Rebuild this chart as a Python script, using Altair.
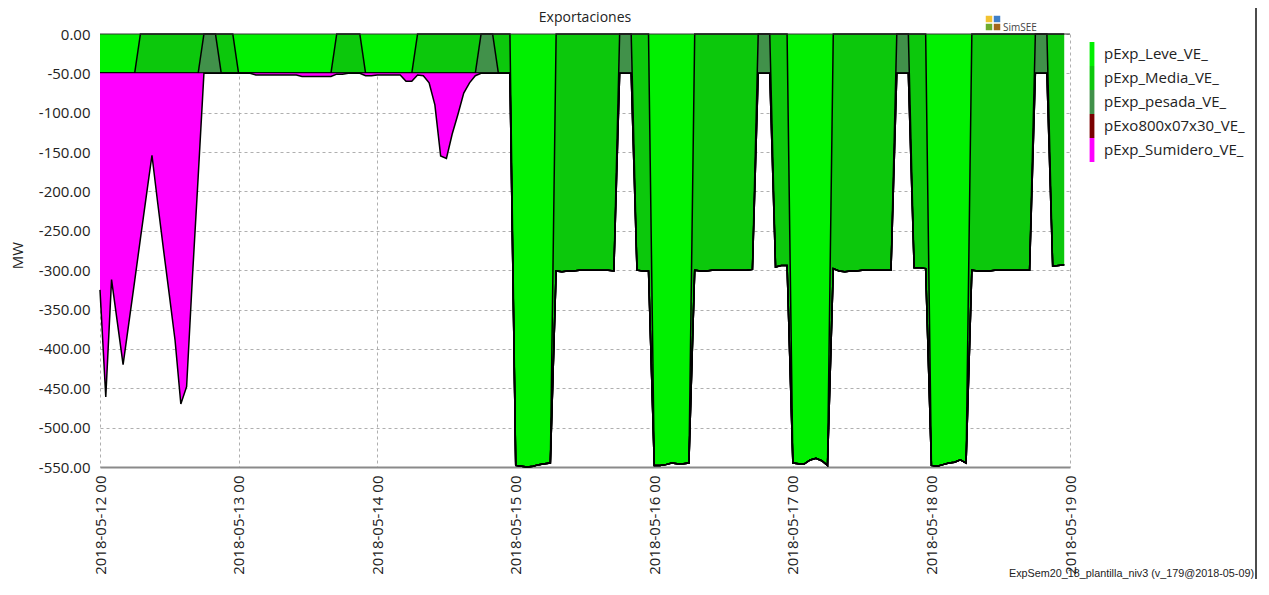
import altair as alt
import pandas as pd

SERIES = ["pExp_Leve_VE_", "pExp_Media_VE_", "pExp_pesada_VE_",
          "pExo800x07x30_VE_", "pExp_Sumidero_VE_"]
COLORS = ["#00F000", "#0CC80C", "#41914A", "#7A0000", "#FF00FF"]

# hourly values, one row per day (2018-05-12 ... 2018-05-18), MW
leve = [
    -50, -50, -50, -50, -50, -50, -50, 0, 0, 0, 0, 0, 0, 0, 0, 0, 0, 0, 0, 0, 0, 0, 0, 0,
    -50, -50, -50, -50, -50, -50, -50, -50, -50, -50, -50, -50, -50, -50, -50, -50, -50, 0, 0, 0, 0, 0, -50, -50,
    -50, -50, -50, -50, -50, -50, -50, 0, 0, 0, 0, 0, 0, 0, 0, 0, 0, 0, 0, 0, 0, 0, 0, 0,
    -548, -549, -550, -549, -547, -546, -545, 0, 0, 0, 0, 0, 0, 0, 0, 0, 0, 0, 0, 0, 0, 0, 0, 0,
    -548, -548, -547, -545, -546, -546, -545, 0, 0, 0, 0, 0, 0, 0, 0, 0, 0, 0, 0, 0, 0, 0, 0, 0,
    -545, -546, -546, -541, -539, -542, -548, 0, 0, 0, 0, 0, 0, 0, 0, 0, 0, 0, 0, 0, 0, 0, 0, 0,
    -548, -549, -547, -545, -544, -541, -545, 0, 0, 0, 0, 0, 0, 0, 0, 0, 0, 0, 0, 0, 0, 0, 0, 0,
]
media = [
    0, 0, 0, 0, 0, 0, 0, -50, -50, -50, -50, -50, -50, -50, -50, -50, -50, -50, 0, 0, 0, -50, -50, -50,
    0, 0, 0, 0, 0, 0, 0, 0, 0, 0, 0, 0, 0, 0, 0, 0, 0, -50, -50, -50, -50, -50, 0, 0,
    0, 0, 0, 0, 0, 0, 0, -50, -50, -50, -50, -50, -50, -50, -50, -50, -50, -50, 0, 0, 0, -50, -50, -50,
    0, 0, 0, 0, 0, 0, 0, -301, -302, -301, -301, -300, -300, -300, -300, -300, -300, -301, 0, 0, 0, -300, -301, -301,
    0, 0, 0, 0, 0, 0, 0, -300, -301, -301, -300, -300, -300, -300, -300, -300, -300, -299, 0, 0, 0, -296, -294, -294,
    0, 0, 0, 0, 0, 0, 0, -298, -301, -302, -301, -301, -300, -300, -300, -300, -300, -300, 0, 0, 0, -297, -297, -298,
    0, 0, 0, 0, 0, 0, 0, -300, -301, -301, -301, -300, -300, -300, -300, -300, -300, -300, 0, 0, 0, -295, -294, -293,
]
pesada = [
    0, 0, 0, 0, 0, 0, 0, 0, 0, 0, 0, 0, 0, 0, 0, 0, 0, 0, -50, -50, -50, 0, 0, 0,
    0, 0, 0, 0, 0, 0, 0, 0, 0, 0, 0, 0, 0, 0, 0, 0, 0, 0, 0, 0, 0, 0, 0, 0,
    0, 0, 0, 0, 0, 0, 0, 0, 0, 0, 0, 0, 0, 0, 0, 0, 0, 0, -50, -50, -50, 0, 0, 0,
    0, 0, 0, 0, 0, 0, 0, 0, 0, 0, 0, 0, 0, 0, 0, 0, 0, 0, -50, -50, -50, 0, 0, 0,
    0, 0, 0, 0, 0, 0, 0, 0, 0, 0, 0, 0, 0, 0, 0, 0, 0, 0, -50, -50, -50, 0, 0, 0,
    0, 0, 0, 0, 0, 0, 0, 0, 0, 0, 0, 0, 0, 0, 0, 0, 0, 0, -50, -50, -50, 0, 0, 0,
    0, 0, 0, 0, 0, 0, 0, 0, 0, 0, 0, 0, 0, 0, 0, 0, 0, 0, -50, -50, -50, 0, 0, 0,
]
exo800 = [
    0, 0, 0, 0, 0, 0, 0, 0, 0, 0, 0, 0, 0, 0, 0, 0, 0, 0, 0, 0, 0, 0, 0, 0,
    0, 0, 0, 0, 0, 0, 0, 0, 0, 0, 0, 0, 0, 0, 0, 0, 0, 0, 0, 0, 0, 0, 0, 0,
    0, 0, 0, 0, 0, 0, 0, 0, 0, 0, 0, 0, 0, 0, 0, 0, 0, 0, 0, 0, 0, 0, 0, 0,
    0, 0, 0, 0, 0, 0, 0, 0, 0, 0, 0, 0, 0, 0, 0, 0, 0, 0, 0, 0, 0, 0, 0, 0,
    0, 0, 0, 0, 0, 0, 0, 0, 0, 0, 0, 0, 0, 0, 0, 0, 0, 0, 0, 0, 0, 0, 0, 0,
    0, 0, 0, 0, 0, 0, 0, 0, 0, 0, 0, 0, 0, 0, 0, 0, 0, 0, 0, 0, 0, 0, 0, 0,
    0, 0, 0, 0, 0, 0, 0, 0, 0, 0, 0, 0, 0, 0, 0, 0, 0, 0, 0, 0, 0, 0, 0, 0,
]
sumidero = [
    -275, -411, -262, -316, -370, -317, -264, -210, -157, -104, -165, -224, -281, -339, -420, -398, -260, -132, 0, 0, 0, 0, 0, 0,
    0, 0, 0, -2, -2, -2, -2, -2, -2, -2, -2, -4, -4, -4, -4, -4, -4, -1, -1, 0, 0, 0, -3, -3,
    -2, -2, -2, -2, -2, -10, -10, -2, -3, -12, -40, -105, -108, -77, -52, -25, -12, -3, 0, 0, 0, 0, 0, 0,
    0, 0, 0, 0, 0, 0, 0, 0, 0, 0, 0, 0, 0, 0, 0, 0, 0, 0, 0, 0, 0, 0, 0, 0,
    0, 0, 0, 0, 0, 0, 0, 0, 0, 0, 0, 0, 0, 0, 0, 0, 0, 0, 0, 0, 0, 0, 0, 0,
    0, 0, 0, 0, 0, 0, 0, 0, 0, 0, 0, 0, 0, 0, 0, 0, 0, 0, 0, 0, 0, 0, 0, 0,
    0, 0, 0, 0, 0, 0, 0, 0, 0, 0, 0, 0, 0, 0, 0, 0, 0, 0, 0, 0, 0, 0, 0, 0,
]

Y_TICKS = [-550, -500, -450, -400, -350, -300, -250, -200, -150, -100, -50, 0]
DAYS = [12, 13, 14, 15, 16, 17, 18, 19]
TITLE = "Exportaciones"
FOOTER = "ExpSem20_18_plantilla_niv3 (v_179@2018-05-09)"

hours = pd.date_range("2018-05-12 00:00", periods=168, freq="h")
times = [h.strftime("%Y-%m-%dT%H:%M:%SZ") for h in hours]

rows = []
for k, (name, vals) in enumerate(zip(SERIES, [leve, media, pesada, exo800, sumidero])):
    for t, v in zip(times, vals):
        rows.append({"t": t, "serie": name, "k": k, "v": v})
df = pd.DataFrame(rows)

FONT = "Open Sans"

x_enc = alt.X(
    "t:T",
    scale=alt.Scale(type="utc", domain=[
        alt.DateTime(year=2018, month=5, date=12, utc=True),
        alt.DateTime(year=2018, month=5, date=19, utc=True)]),
    axis=alt.Axis(
        values=[alt.DateTime(year=2018, month=5, date=d, utc=True) for d in DAYS],
        tickCount=40,
        format="%Y-%m-%d %H", labelAngle=270, title=None, grid=True, ticks=False,
        labelOverlap=False, labelPadding=8, domain=True, domainColor="#8A8A8A",
        domainWidth=2),
)
y_enc = alt.Y(
    "cum:Q",
    scale=alt.Scale(domain=[-550, 0], nice=False, zero=False),
    axis=alt.Axis(
        values=Y_TICKS, tickCount=40, title="MW", grid=True, ticks=False, domain=False,
        labelPadding=10, labelOverlap=False, labelBound=False,
        labelExpr="replace(format(datum.value, '.2f'), '\u2212', '-')",
        titleX=-83, titleY=221, titleAngle=270, titleBaseline="middle", titleAlign="center"),
)
color_enc = alt.Color(
    "serie:N",
    scale=alt.Scale(domain=SERIES, range=COLORS),
    legend=alt.Legend(
        title=None, orient="none", legendX=980, legendY=8,
        symbolType="M-0.2,-1H0.2V1H-0.2Z", symbolSize=576, symbolStrokeWidth=0,
        symbolOpacity=1, labelFont=FONT, labelFontSize=15, labelColor="#222",
        labelOffset=0, rowPadding=0, padding=0),
)

base = alt.Chart(df).transform_window(
    cum="sum(v)", groupby=["t"], sort=[alt.SortField("k", order="ascending")],
    frame=[None, 0]
).transform_calculate(y0="datum.cum - datum.v")

is_sum = alt.datum.serie == "pExp_Sumidero_VE_"
not_sum = alt.datum.serie != "pExp_Sumidero_VE_"

areas_main = base.transform_filter(not_sum).mark_area(
    interpolate="linear", opacity=1).encode(x=x_enc, y=y_enc, y2="y0:Q", color=color_enc)
lines_main = base.transform_filter(not_sum).mark_line(
    color="black", strokeWidth=1.5).encode(x=x_enc, y=y_enc, detail="serie:N")
area_sum = base.transform_filter(is_sum).mark_area(
    interpolate="linear", opacity=1).encode(x=x_enc, y=y_enc, y2="y0:Q", color=color_enc)
line_sum = base.transform_filter(is_sum).mark_line(
    color="black", strokeWidth=1.5).encode(x=x_enc, y=y_enc)

top_rule = alt.Chart(pd.DataFrame({"z": [0]})).mark_rule(
    color="#333", strokeWidth=1).encode(y=alt.datum(0))

title_text = alt.Chart(pd.DataFrame({"s": [TITLE]})).mark_text(
    align="center", baseline="middle", font=FONT, fontSize=14, color="#222").encode(
    text="s:N", x=alt.value(485), y=alt.value(-16))

logo_df = pd.DataFrame({"c": ["#F2C230", "#3F7FC8", "#6EAA2C", "#A2661C"]})
logo = alt.layer(
    *[alt.Chart(logo_df.iloc[[i]]).mark_square(size=42, opacity=1, color=c).encode(
        x=alt.value(xx), y=alt.value(yy))
      for i, (c, xx, yy) in enumerate(zip(logo_df["c"], [889, 897, 889, 897], [-15, -15, -7, -7]))]
)
logo_text = alt.Chart(pd.DataFrame({"s": ["SimSEE"]})).mark_text(
    align="left", baseline="middle", font=FONT, fontSize=10, color="#444").encode(
    text="s:N", x=alt.value(903), y=alt.value(-6))

footer = alt.Chart(pd.DataFrame({"s": [FOOTER]})).mark_text(
    align="right", baseline="alphabetic", font="Liberation Sans", fontSize=10.8,
    color="#222").encode(text="s:N", x=alt.value(1154), y=alt.value(543))
frame_line = alt.Chart(pd.DataFrame({"z": [0]})).mark_rule(
    color="#111", strokeWidth=1.5).encode(
    x=alt.value(1156), y=alt.value(-30), y2=alt.value(545))

chart = alt.layer(
    areas_main, lines_main, area_sum, line_sum, top_rule, title_text, logo, logo_text,
    footer, frame_line
).properties(
    width=970, height=433,
    padding={"left": 92, "top": 26, "right": 190, "bottom": 112},
    autosize=alt.AutoSizeParams(type="none"),
).configure_view(stroke=None).configure_axis(
    gridColor="#AFAFAF", gridDash=[3, 3], gridWidth=1,
    labelFont=FONT, labelFontSize=15, labelColor="#222",
    titleFont=FONT, titleFontSize=15, titleFontWeight="normal", titleColor="#222",
    zindex=1,
)

chart.save("out.html", embed_options={"renderer": "svg", "actions": False})
